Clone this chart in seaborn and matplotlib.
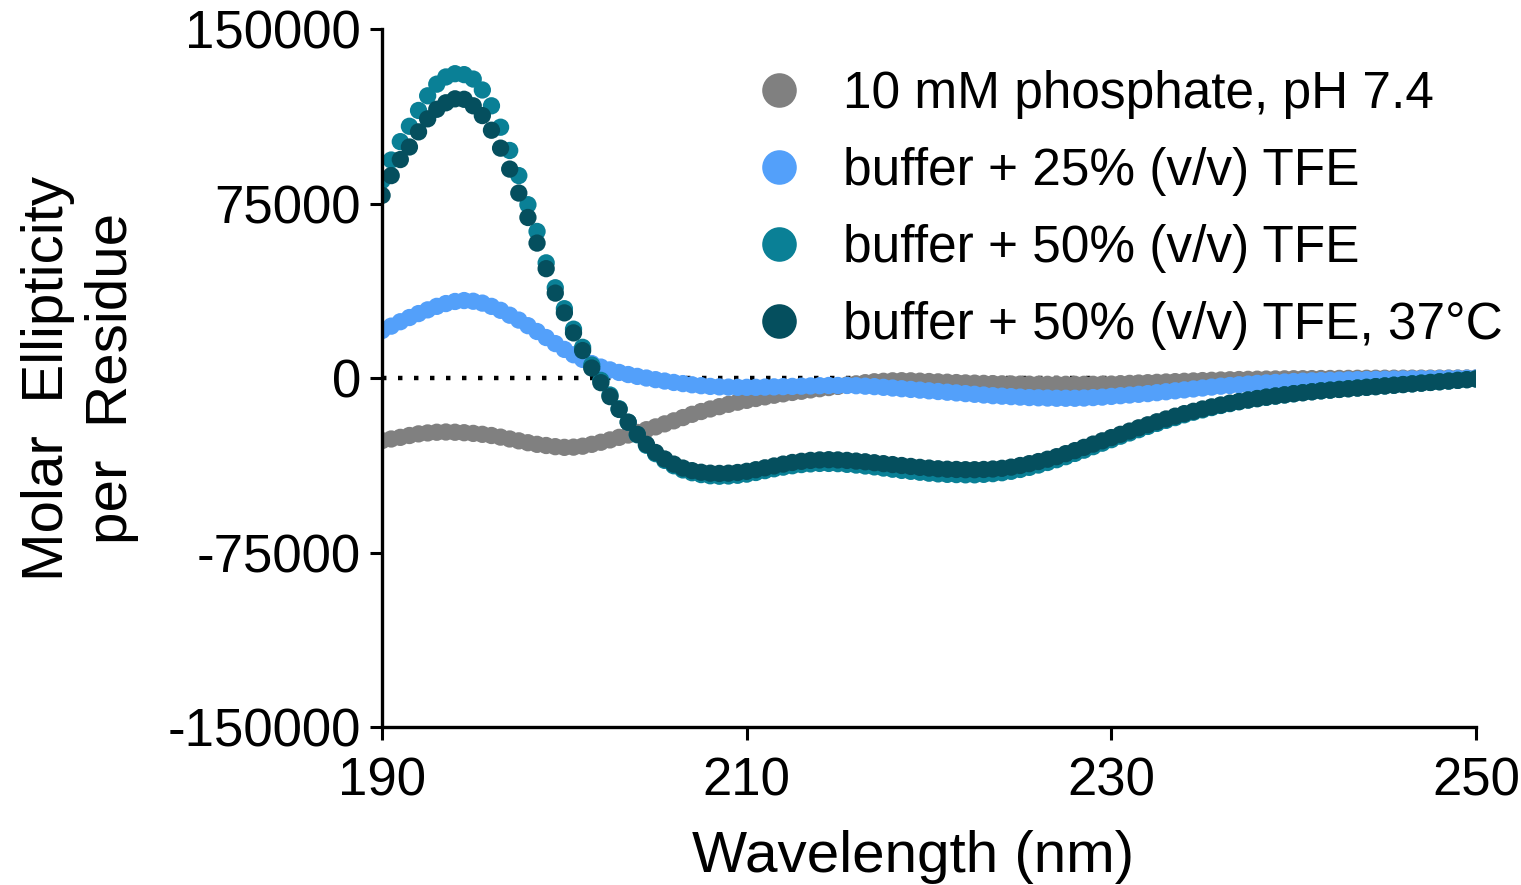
import numpy as np
import pandas as pd
import matplotlib
matplotlib.use("Agg")
import matplotlib.pyplot as plt
import seaborn as sns

# ---------------- data ----------------
wavelength = [190 + 0.5 * i for i in range(121)]  # 190 ... 250 nm, 0.5 nm step

series_labels = [
    "10 mM phosphate, pH 7.4",
    "buffer + 25% (v/v) TFE",
    "buffer + 50% (v/v) TFE",
    "buffer + 50% (v/v) TFE, 37°C",
]
series_colors = ["#808080", "#53a0fa", "#0a8096", "#054f5e"]

phosphate = [
    -26900, -26200, -25500, -24700, -24000, -23600, -23300, -23200, -23300, -23500,
    -23800, -24200, -24700, -25400, -26200, -27000, -27800, -28500, -29000, -29500,
    -29800, -29700, -29300, -28500, -27600, -26600, -25500, -24500, -23400, -22200,
    -21000, -19700, -18400, -17000, -15600, -14400, -13300, -12300, -11300, -10400,
    -9600, -8800, -8100, -7400, -6800, -6200, -5700, -5100, -4600, -4100,
    -3600, -3000, -2500, -2000, -1600, -1400, -1200, -1150, -1200, -1350,
    -1500, -1650, -1800, -1950, -2100, -2200, -2300, -2400, -2500, -2550,
    -2600, -2650, -2700, -2700, -2700, -2700, -2700, -2700, -2700, -2650,
    -2600, -2450, -2300, -2150, -2000, -1850, -1700, -1550, -1400, -1250,
    -1100, -980, -850, -750, -650, -570, -500, -450, -400, -350,
    -300, -280, -250, -220, -200, -170, -150, -120, -100, -90,
    -80, -70, -60, -50, -40, -30, -20, -15, -10, -5,
    0,
]

tfe25 = [
    20400, 22300, 24200, 26000, 27700, 29300, 30800, 32000, 32900, 33300,
    33000, 32200, 30800, 29100, 27000, 24900, 22500, 20000, 17400, 14800,
    12300, 10000, 8000, 6200, 4700, 3500, 2400, 1500, 700, 0,
    -700, -1300, -1900, -2400, -2900, -3300, -3600, -3800, -3900, -4000,
    -4000, -4000, -3900, -3800, -3700, -3600, -3500, -3400, -3300, -3200,
    -3200, -3200, -3300, -3500, -3700, -4000, -4300, -4600, -4900, -5200,
    -5500, -5800, -6100, -6400, -6700, -7000, -7300, -7600, -7800, -8000,
    -8200, -8400, -8500, -8600, -8700, -8700, -8700, -8600, -8400, -8200,
    -7900, -7600, -7300, -7000, -6700, -6300, -5900, -5500, -5100, -4700,
    -4300, -3900, -3500, -3200, -2900, -2600, -2300, -2100, -1900, -1700,
    -1500, -1350, -1200, -1100, -1000, -900, -800, -720, -650, -580,
    -520, -460, -400, -350, -300, -250, -200, -160, -120, -80,
    -40,
]

tfe50 = [
    84900, 93700, 101600, 108200, 115000, 121300, 126300, 129400, 130800, 130400,
    128500, 123800, 117000, 107800, 97800, 87000, 74500, 63000, 49500, 38800,
    29800, 21000, 13200, 5600, -1000, -7300, -13200, -19000, -24400, -28900,
    -32500, -35400, -37700, -39500, -40700, -41500, -42000, -42200, -42100, -41800,
    -41300, -40600, -39800, -39000, -38300, -37700, -37200, -36900, -36700, -36700,
    -36800, -37100, -37400, -37800, -38200, -38700, -39200, -39700, -40100, -40500,
    -40900, -41200, -41400, -41500, -41600, -41600, -41400, -41100, -40700, -40100,
    -39300, -38400, -37400, -36300, -35100, -33800, -32400, -31000, -29500, -28000,
    -26500, -25000, -23600, -22200, -20800, -19500, -18200, -17000, -15800, -14700,
    -13700, -12700, -11800, -11000, -10200, -9500, -8900, -8300, -7800, -7300,
    -6800, -6300, -5900, -5500, -5200, -4900, -4600, -4300, -4000, -3700,
    -3400, -3100, -2800, -2500, -2200, -1900, -1600, -1300, -1000, -700,
    -400,
]

tfe50_37c = [
    78500, 87000, 93900, 99300, 105800, 111400, 115500, 118300, 120000, 119800,
    117000, 112800, 106500, 98800, 89800, 79500, 69000, 58000, 47000, 36500,
    28000, 19400, 11800, 4300, -2000, -8000, -13500, -19000, -24200, -28500,
    -32000, -34800, -37000, -38700, -39800, -40500, -40900, -41000, -40900, -40600,
    -40100, -39400, -38600, -37800, -37000, -36300, -35800, -35400, -35200, -35100,
    -35200, -35400, -35700, -36000, -36400, -36800, -37200, -37600, -38000, -38400,
    -38700, -39000, -39200, -39300, -39400, -39400, -39300, -39100, -38800, -38300,
    -37600, -36800, -35900, -34900, -33800, -32500, -31200, -29800, -28400, -27000,
    -25600, -24200, -22800, -21400, -20100, -18800, -17600, -16400, -15300, -14300,
    -13300, -12400, -11600, -10800, -10100, -9400, -8800, -8200, -7700, -7200,
    -6700, -6300, -5900, -5500, -5200, -4900, -4600, -4300, -4000, -3700,
    -3400, -3100, -2800, -2500, -2200, -1900, -1600, -1300, -1000, -700,
    -400,
]

x_ticks = [190, 210, 230, 250]
y_ticks = [-150000, -75000, 0, 75000, 150000]
x_label = "Wavelength (nm)"
y_label = "Molar  Ellipticity\nper  Residue"

# ---------------- build long table ----------------
frames = []
for lab, vals in zip(series_labels, [phosphate, tfe25, tfe50, tfe50_37c]):
    frames.append(pd.DataFrame({"wavelength": wavelength, "theta": vals, "condition": lab}))
df = pd.concat(frames, ignore_index=True)

# ---------------- style ----------------
sns.set_theme(style="ticks")
plt.rcParams["font.family"] = ["Liberation Sans", "DejaVu Sans"]
plt.rcParams["axes.unicode_minus"] = False

fig = plt.figure(figsize=(15.21, 8.85), dpi=100)
ax = fig.add_axes([0.2512, 0.1785, 0.7192, 0.7887])

ax.axhline(0, color="black", lw=3.2, linestyle=(0, (1, 2.6)), zorder=1)

sns.scatterplot(
    data=df, x="wavelength", y="theta", hue="condition",
    hue_order=series_labels, palette=series_colors,
    s=155, linewidth=0, alpha=1.0, ax=ax, zorder=2,
)

ax.set_xlim(190, 250)
ax.set_ylim(-150000, 150000)
ax.set_xticks(x_ticks)
ax.set_yticks(y_ticks)
ax.set_xticklabels([str(t) for t in x_ticks])
ax.set_yticklabels([str(t) for t in y_ticks])

for side in ["top", "right"]:
    ax.spines[side].set_visible(False)
for side in ["left", "bottom"]:
    ax.spines[side].set_linewidth(2.4)
    ax.spines[side].set_color("black")
ax.spines["left"].set_bounds(-150000, 150000)
ax.spines["bottom"].set_bounds(190, 250)

ax.tick_params(axis="both", which="major", direction="out", length=9,
               width=2.2, color="black", labelsize=38, labelcolor="black", pad=6)
ax.tick_params(axis="x", pad=12)
ax.margins(x=0)

ax.set_xlabel(x_label, fontsize=42, color="black")
ax.xaxis.set_label_coords(0.485, -0.148)
ax.xaxis.label.set_va("top")
ax.set_ylabel(y_label, fontsize=42, color="black", linespacing=1.25)
ax.yaxis.set_label_coords(-0.222, 0.5)

handles, labels = ax.get_legend_handles_labels()
leg = ax.legend(handles, labels, loc="upper left", bbox_to_anchor=(0.3346, 0.942),
                frameon=False, fontsize=37, markerscale=2.0, handletextpad=0.65,
                labelspacing=0.55, handlelength=1.2, borderaxespad=0.0,
                borderpad=0.0)
for t in leg.get_texts():
    t.set_color("black")

fig.savefig("out.png", dpi=100, facecolor="white")
